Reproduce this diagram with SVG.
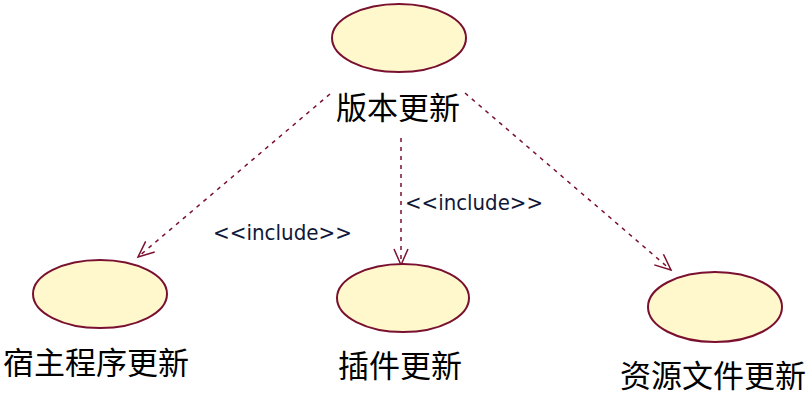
<svg xmlns="http://www.w3.org/2000/svg" width="812" height="400" viewBox="0 0 812 400">
<defs>
<style>
.uc{fill:#FFF8CC;stroke:#7A1030;stroke-width:2}
.lbl{font-family:"Noto Sans CJK SC","Noto Sans CJK JP",sans-serif;font-size:31px;fill:#000;text-anchor:middle}
.inc{font-family:"DejaVu Sans","Noto Sans",sans-serif;font-size:21px;fill:#10183a}
.dep{stroke:#7A1030;stroke-width:1.5;stroke-dasharray:4,5;fill:none}
</style>
<marker id="open" viewBox="0 0 20 20" refX="18" refY="10" markerWidth="20" markerHeight="20" markerUnits="userSpaceOnUse" orient="auto">
<path d="M2,3 L18,10 L2,17" fill="none" stroke="#7A1030" stroke-width="1.5"/>
</marker>
</defs>
<rect width="812" height="400" fill="#fff"/>
<g id="connectors">
<line class="dep" x1="330" y1="94" x2="138" y2="257" marker-end="url(#open)"/>
<line class="dep" x1="401" y1="138" x2="401" y2="265" marker-end="url(#open)"/>
<line class="dep" x1="465" y1="93" x2="671" y2="270" marker-end="url(#open)"/>
<text class="inc" x="213" y="240" textLength="139" lengthAdjust="spacingAndGlyphs">&lt;&lt;include&gt;&gt;</text>
<text class="inc" x="405" y="210" textLength="138" lengthAdjust="spacingAndGlyphs">&lt;&lt;include&gt;&gt;</text>
</g>
<g id="n_version">
<ellipse class="uc" cx="399" cy="38" rx="67" ry="34"/>
<text class="lbl" x="398" y="119">版本更新</text>
</g>
<g id="n_host">
<ellipse class="uc" cx="100" cy="294" rx="67" ry="34"/>
<text class="lbl" x="96" y="374">宿主程序更新</text>
</g>
<g id="n_plugin">
<ellipse class="uc" cx="403" cy="298" rx="66" ry="34"/>
<text class="lbl" x="400" y="377">插件更新</text>
</g>
<g id="n_resource">
<ellipse class="uc" cx="715" cy="307" rx="67" ry="35"/>
<text class="lbl" x="713" y="387">资源文件更新</text>
</g>
</svg>
